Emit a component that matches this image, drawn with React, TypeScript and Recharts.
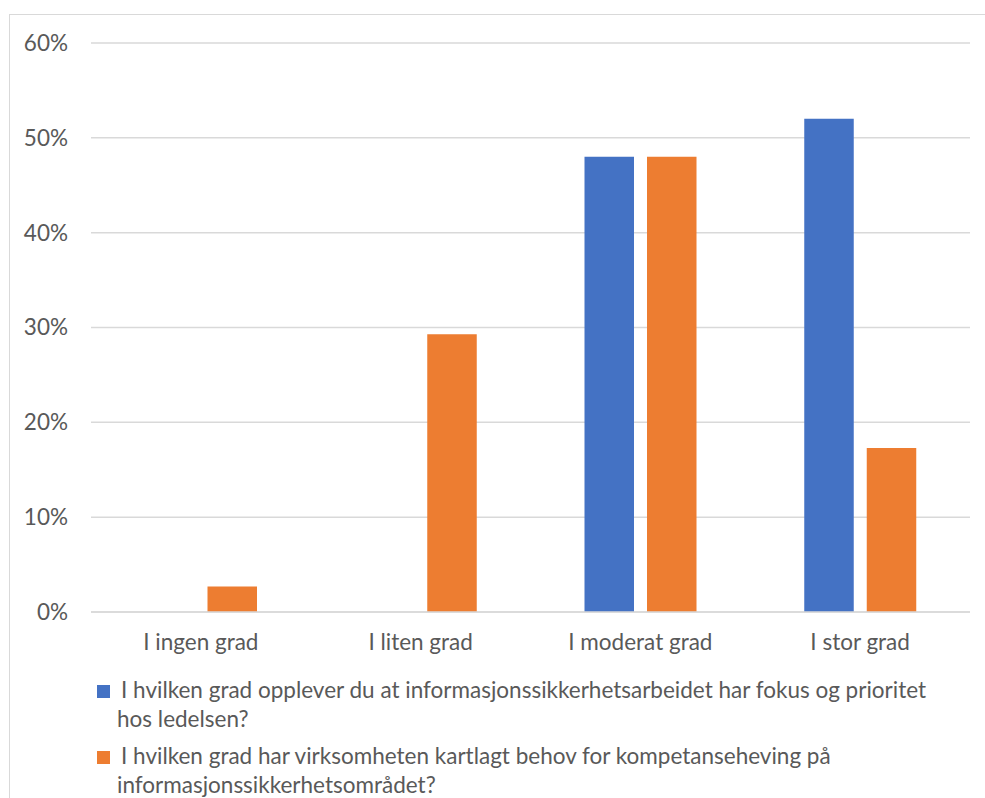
import { BarChart, Bar, XAxis, YAxis, CartesianGrid, Legend } from "recharts"

const FONT = "Lato, 'Open Sans', sans-serif"
const TEXT = "#595959"
const GRID = "#d9d9d9"

const categories = ["I ingen grad", "I liten grad", "I moderat grad", "I stor grad"]
const ledelseFokus = [0, 0, 48, 52]
const kartlagtBehov = [2.7, 29.3, 48, 17.3]
const seriesNames = [
  "I hvilken grad opplever du at informasjonssikkerhetsarbeidet har fokus og prioritet hos ledelsen?",
  "I hvilken grad har virksomheten kartlagt behov for kompetanseheving på informasjonssikkerhetsområdet?",
]
const seriesColors = ["#4472C4", "#ED7D31"]
const yTicks = [0, 10, 20, 30, 40, 50, 60]

const data = categories.map((name, i) => ({
  name,
  fokus: ledelseFokus[i],
  behov: kartlagtBehov[i],
}))

function LegendList({ payload = [] }: { payload?: any[] }) {
  // keep series order instead of the legend's alphabetical sort
  const items = [...payload].sort(
    (a, b) => seriesNames.indexOf(a.value) - seriesNames.indexOf(b.value)
  )
  return (
    <div style={{ fontFamily: FONT, fontSize: 22.5, color: TEXT, lineHeight: "29px" }}>
      {items.map((entry, i) => (
        <div
          key={i}
          style={{ display: "flex", alignItems: "flex-start", marginTop: i ? 8 : 0 }}
        >
          <span
            style={{ width: 13, height: 13, background: entry.color, marginTop: 10, flex: "none" }}
          />
          <span style={{ marginLeft: 7, textIndent: 4, width: 820, textAlign: "left" }}>
            {entry.value}
          </span>
        </div>
      ))}
    </div>
  )
}

export default function App() {
  return (
    <div
      style={{
        position: "absolute",
        left: 0,
        top: 0,
        width: 985,
        height: 798,
        overflow: "hidden",
        background: "#fff",
      }}
    >
      {/* chart frame, only the top and left edges fall inside the view */}
      <div
        style={{
          position: "absolute",
          left: 9,
          top: 14,
          width: 1000,
          height: 1000,
          borderLeft: `1px solid ${GRID}`,
          borderTop: `1px solid ${GRID}`,
        }}
      />
      <div style={{ position: "absolute", left: 0, top: 0 }}>
        <BarChart
          width={985}
          height={798}
          data={data}
          margin={{ top: 43, right: 15, left: 11, bottom: 126 }}
          barSize={49.5}
          barGap={13}
        >
          <CartesianGrid vertical={false} stroke={GRID} strokeWidth={1.5} />
          <XAxis
            dataKey="name"
            height={60}
            tickLine={false}
            tickSize={0}
            tickMargin={22}
            axisLine={{ stroke: GRID, strokeWidth: 1.5 }}
            tick={{ fill: TEXT, fontSize: 22.5, fontFamily: FONT }}
          />
          <YAxis
            width={80}
            domain={[0, 60]}
            ticks={yTicks}
            tickFormatter={(v) => `${v}%`}
            axisLine={false}
            tickLine={false}
            tickSize={0}
            tickMargin={23}
            tick={{ fill: TEXT, fontSize: 22.5, fontFamily: FONT }}
          />
          <Legend
            layout="vertical"
            align="center"
            verticalAlign="middle"
            wrapperStyle={{ left: 97, top: 675, width: 880 }}
            content={<LegendList />}
          />
          <Bar
            dataKey="fokus"
            name={seriesNames[0]}
            fill={seriesColors[0]}
            isAnimationActive={false}
          />
          <Bar
            dataKey="behov"
            name={seriesNames[1]}
            fill={seriesColors[1]}
            isAnimationActive={false}
          />
        </BarChart>
      </div>
    </div>
  )
}
